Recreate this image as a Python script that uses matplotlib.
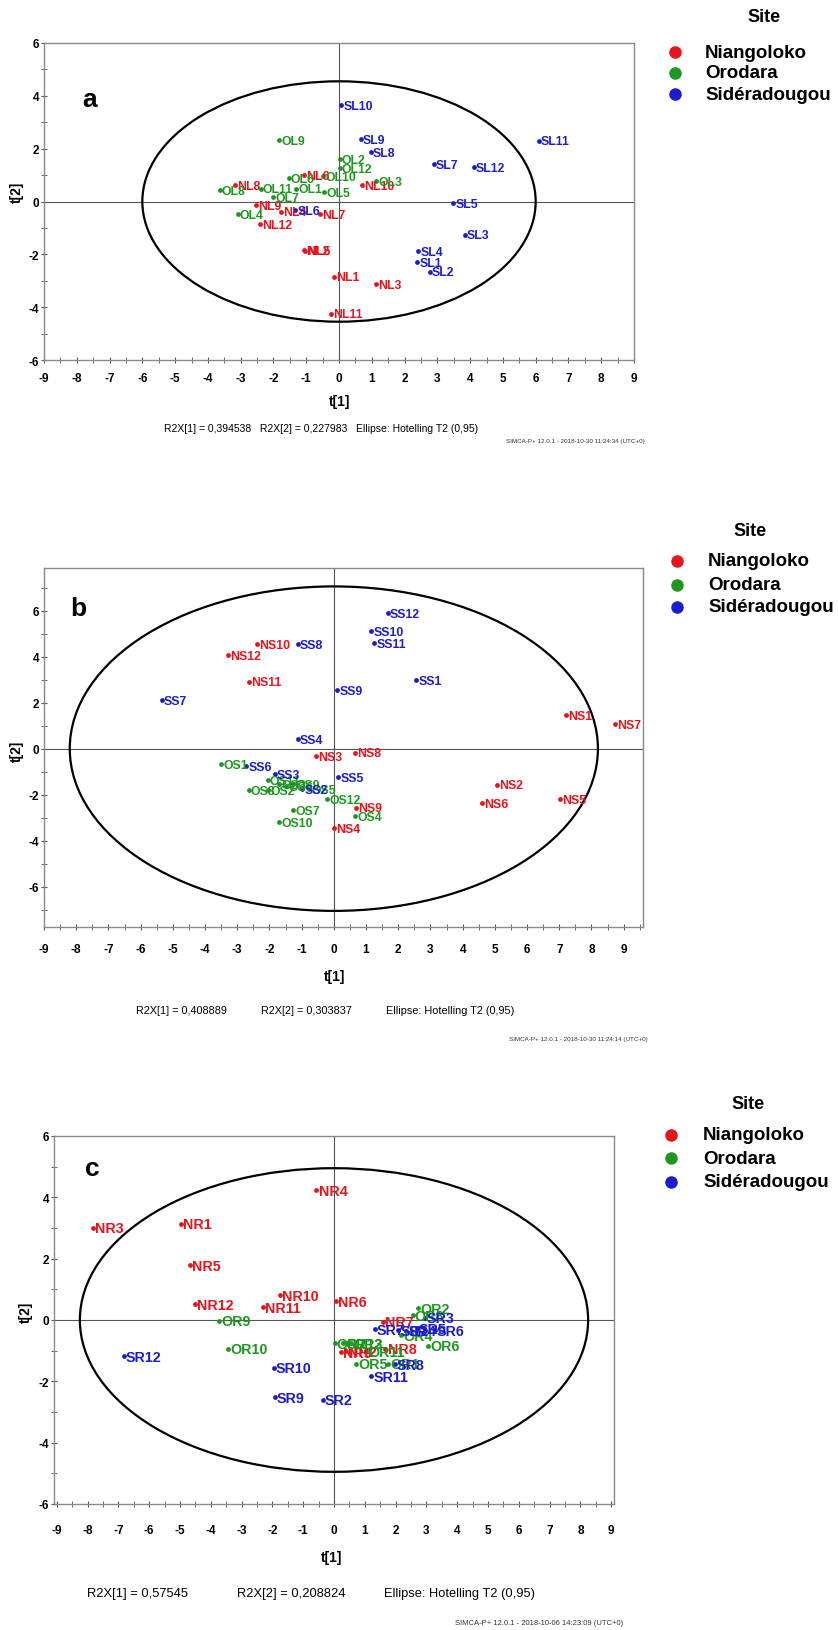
import matplotlib
matplotlib.use("Agg")
import matplotlib.pyplot as plt
from matplotlib.patches import Ellipse
from matplotlib.lines import Line2D
from matplotlib.ticker import MultipleLocator

plt.rcParams["font.family"] = ["Liberation Sans", "DejaVu Sans"]
plt.rcParams["axes.unicode_minus"] = False

W, H = 838, 1631

sites = ["Niangoloko", "Orodara", "Sidéradougou"]
site_colors = ["#e8141c", "#1f961f", "#1c1ccf"]

# ---- panel a (leaves) ----
a_n_lab = ["NL1", "NL2", "NL3", "NL4", "NL5", "NL6", "NL7", "NL8", "NL9", "NL10", "NL11", "NL12"]
a_n_t1 = [-0.15, -1.08, 1.14, -1.78, -1.05, -1.08, -0.59, -3.17, -2.52, 0.71, -0.23, -2.41]
a_n_t2 = [-2.84, -1.83, -3.13, -0.39, -1.86, 1.01, -0.48, 0.63, -0.13, 0.63, -4.24, -0.86]
a_o_lab = ["OL1", "OL2", "OL3", "OL4", "OL5", "OL6", "OL7", "OL8", "OL9", "OL10", "OL11", "OL12"]
a_o_t1 = [-1.31, 0.02, 1.14, -3.09, -0.45, -1.54, -2.01, -3.64, -1.83, -0.49, -2.39, 0.02]
a_o_t2 = [0.49, 1.60, 0.78, -0.48, 0.36, 0.88, 0.17, 0.44, 2.32, 0.97, 0.49, 1.25]
a_s_lab = ["SL1", "SL2", "SL3", "SL4", "SL5", "SL6", "SL7", "SL8", "SL9", "SL10", "SL11", "SL12"]
a_s_t1 = [2.39, 2.77, 3.84, 2.42, 3.48, -1.34, 2.89, 0.97, 0.66, 0.07, 6.10, 4.11]
a_s_t2 = [-2.29, -2.65, -1.26, -1.88, -0.06, -0.32, 1.42, 1.87, 2.35, 3.65, 2.30, 1.30]

# ---- panel b (seeds) ----
b_n_lab = ["NS1", "NS2", "NS3", "NS4", "NS5", "NS6", "NS7", "NS8", "NS9", "NS10", "NS11", "NS12"]
b_n_t1 = [7.22, 5.06, -0.55, 0.00, 7.03, 4.61, 8.74, 0.66, 0.70, -2.38, -2.64, -3.29]
b_n_t2 = [1.47, -1.57, -0.34, -3.46, -2.20, -2.37, 1.07, -0.17, -2.56, 4.54, 2.91, 4.07]
b_o_lab = ["OS1", "OS2", "OS3", "OS4", "OS5", "OS6", "OS7", "OS8", "OS9", "OS10", "OS11", "OS12"]
b_o_t1 = [-3.50, -2.03, -1.69, 0.66, -0.76, -1.48, -1.27, -2.64, -1.27, -1.69, -2.05, -0.21]
b_o_t2 = [-0.67, -1.80, -1.54, -2.92, -1.76, -1.62, -2.67, -1.80, -1.54, -3.18, -1.37, -2.20]
b_s_lab = ["SS1", "SS2", "SS3", "SS4", "SS5", "SS6", "SS7", "SS8", "SS9", "SS10", "SS11", "SS12"]
b_s_t1 = [2.56, -0.98, -1.84, -1.12, 0.14, -2.72, -5.34, -1.12, 0.11, 1.16, 1.26, 1.68]
b_s_t2 = [2.98, -1.76, -1.11, 0.41, -1.24, -0.75, 2.12, 4.54, 2.53, 5.12, 4.57, 5.88]

# ---- panel c (roots) ----
c_n_lab = ["NR1", "NR2", "NR3", "NR4", "NR5", "NR6", "NR7", "NR8", "NR9", "NR10", "NR11", "NR12"]
c_n_t1 = [-4.98, 0.40, -7.84, -0.57, -4.69, 0.06, 1.59, 1.67, 0.24, -1.74, -2.32, -4.51]
c_n_t2 = [3.14, -1.02, 3.01, 4.23, 1.78, 0.62, -0.05, -0.93, -1.04, 0.80, 0.41, 0.51]
c_o_lab = ["OR1", "OR2", "OR3", "OR4", "OR5", "OR6", "OR7", "OR8", "OR9", "OR10", "OR11", "OR12"]
c_o_t1 = [1.75, 2.73, 0.55, 2.19, 0.73, 3.05, 0.02, 2.55, -3.73, -3.44, 1.05, 0.30]
c_o_t2 = [-1.42, 0.38, -0.76, -0.49, -1.42, -0.84, -0.76, 0.16, -0.02, -0.93, -1.02, -0.76]
c_s_lab = ["SR1", "SR2", "SR3", "SR4", "SR5", "SR6", "SR7", "SR8", "SR9", "SR10", "SR11", "SR12"]
c_s_t1 = [2.08, -0.36, 2.94, 2.35, 2.68, 3.27, 1.32, 1.97, -1.93, -1.95, 1.21, -6.82]
c_s_t2 = [-0.33, -2.60, 0.08, -0.35, -0.27, -0.33, -0.30, -1.45, -2.51, -1.55, -1.82, -1.18]

a_stats = ["R2X[1] = 0,394538   R2X[2] = 0,227983   Ellipse: Hotelling T2 (0,95)"]
b_stats = ["R2X[1] = 0,408889", "R2X[2] = 0,303837", "Ellipse: Hotelling T2 (0,95)"]
c_stats = ["R2X[1] = 0,57545", "R2X[2] = 0,208824", "Ellipse: Hotelling T2 (0,95)"]


fig = plt.figure(figsize=(W / 100, H / 100), dpi=100)


def fx(x):
    return x / W


def fy(y):
    return 1 - y / H


def panel(box, xlim, ylim, ell, groups, letter, letter_xy, lab_size, xpad):
    left, top, right, bottom = box
    ax = fig.add_axes([fx(left), fy(bottom), (right - left) / W, (bottom - top) / H])
    ax.set_xlim(*xlim)
    ax.set_ylim(*ylim)
    for sp in ax.spines.values():
        sp.set_color("#8a8a8a")
        sp.set_linewidth(1.0)
    ax.axhline(0, color="#555555", lw=0.8, zorder=1)
    ax.axvline(0, color="#555555", lw=0.8, zorder=1)
    ax.add_patch(Ellipse((0, 0), 2 * ell[0], 2 * ell[1], fill=False, ec="black", lw=1.6, zorder=2))
    ax.xaxis.set_minor_locator(MultipleLocator(0.5))
    ax.yaxis.set_minor_locator(MultipleLocator(1))
    ax.tick_params(which="both", direction="inout", color="#555555", labelsize=8.5)
    ax.tick_params(which="major", length=5)
    ax.tick_params(which="minor", length=4)
    ax.tick_params(axis="x", pad=xpad)
    ax.tick_params(axis="y", pad=1)
    ax.set_xticks(range(-9, 10))
    ax.set_yticks(range(-6, 7, 2))
    for t in ax.get_xticklabels() + ax.get_yticklabels():
        t.set_fontweight("bold")
    for (labs, xs, ys), col in zip(groups, site_colors):
        ax.scatter(xs, ys, s=12, color=col, zorder=3, linewidths=0)
        for lab, x, y in zip(labs, xs, ys):
            ax.annotate(lab, (x, y), xytext=(1.5, -0.5), textcoords="offset points",
                        ha="left", va="center", color=col, fontsize=lab_size,
                        fontweight="bold", zorder=4)
    fig.text(fx(letter_xy[0]), fy(letter_xy[1]), letter, fontsize=19, fontweight="bold",
             ha="center", va="center")
    return ax


def legend(title_xy, y_rows, mx, tx):
    fig.text(fx(title_xy[0]), fy(title_xy[1]), "Site", fontsize=13, fontweight="bold",
             ha="center", va="center")
    for name, col, y in zip(sites, site_colors, y_rows):
        fig.add_artist(Line2D([fx(mx)], [fy(y)], transform=fig.transFigure, marker="o",
                              color=col, markersize=8, linestyle="none"))
        fig.text(fx(tx), fy(y), name, fontsize=13.5, fontweight="bold", ha="left", va="center")


def footer(xlab_xy, ylab_xy, stats, stats_x, stats_y, stat_size, simca, simca_xy, simca_size):
    fig.text(fx(xlab_xy[0]), fy(xlab_xy[1]), "t[1]", fontsize=10, fontweight="bold",
             ha="center", va="center")
    fig.text(fx(ylab_xy[0]), fy(ylab_xy[1]), "t[2]", fontsize=10, fontweight="bold",
             ha="center", va="center", rotation=90)
    for s, x in zip(stats, stats_x):
        fig.text(fx(x), fy(stats_y), s, fontsize=stat_size, ha="left", va="center")
    fig.text(fx(simca_xy[0]), fy(simca_xy[1]), simca, fontsize=simca_size, ha="right",
             va="center", color="#333333")


# a
panel((44, 44, 634, 361), (-9, 9), (-6, 6), (6.0, 4.55),
      [(a_n_lab, a_n_t1, a_n_t2), (a_o_lab, a_o_t1, a_o_t2), (a_s_lab, a_s_t1, a_s_t2)],
      "a", (90, 100), 8.8, 6)
legend((764, 18), [53, 74, 95], 675, 705)
footer((340, 402), (17, 192), a_stats, [164], 429, 7.5,
       "SIMCA-P+ 12.0.1 - 2018-10-30 11:24:34 (UTC+0)", (645, 441), 4.5)

# b
panel((44, 569, 643, 928), (-9, 9.6), (-7.75, 7.85), (8.2, 7.05),
      [(b_n_lab, b_n_t1, b_n_t2), (b_o_lab, b_o_t1, b_o_t2), (b_s_lab, b_s_t1, b_s_t2)],
      "b", (78, 609), 8.8, 9)
legend((750, 532), [562, 586, 608], 677, 708)
footer((335, 977), (17, 751), b_stats, [136, 261, 386], 1011, 7.8,
       "SIMCA-P+ 12.0.1 - 2018-10-30 11:24:14 (UTC+0)", (648, 1039), 4.5)

# c
panel((54, 1137, 614, 1505), (-9.09, 9.09), (-6, 6), (8.25, 4.95),
      [(c_n_lab, c_n_t1, c_n_t2), (c_o_lab, c_o_t1, c_o_t2), (c_s_lab, c_s_t1, c_s_t2)],
      "c", (92, 1169), 10.3, 12)
legend((748, 1105), [1136, 1159, 1183], 671, 703)
footer((332, 1558), (26, 1312), c_stats, [87, 237, 384], 1594, 9.3,
       "SIMCA-P+ 12.0.1 - 2018-10-06 14:23:09 (UTC+0)", (623, 1624), 5.5)

fig.savefig("out.png", dpi=100)
